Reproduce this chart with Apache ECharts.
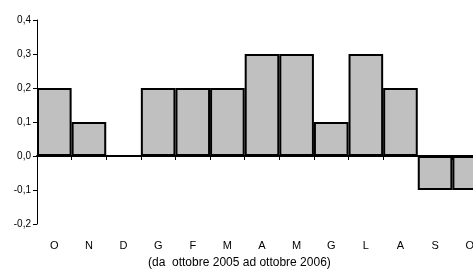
<!DOCTYPE html>
<html>
<head>
<meta charset="utf-8">
<script src="https://cdn.jsdelivr.net/npm/echarts@6.0.0/dist/echarts.min.js"></script>
<style>
  html, body { margin: 0; padding: 0; background: #fff; }
  #chart { width: 473px; height: 273px; }
</style>
</head>
<body>
<div id="chart"></div>
<script>
// Months (Oct 2005 -> Oct 2006)
const months = ['O', 'N', 'D', 'G', 'F', 'M', 'A', 'M', 'G', 'L', 'A', 'S', 'O'];
const values = [0.2, 0.1, 0, 0.2, 0.2, 0.2, 0.3, 0.3, 0.1, 0.3, 0.2, -0.1, -0.1];
const caption = '(da  ottobre 2005 ad ottobre 2006)';

const FONT = 'Liberation Sans, Arial, sans-serif';

const chart = echarts.init(document.getElementById('chart'), null, { renderer: 'canvas' });

const option = {
    animation: false,
    // plot runs past the right edge, last bar is cut like in the original
    grid: { left: 37, top: 20, width: 450, height: 204, containLabel: false, outerBoundsMode: 'none' },
    xAxis: [
        {
            type: 'category',
            data: months,
            axisLine: { onZero: true, lineStyle: { color: '#000', width: 2 } },
            axisTick: { show: true, alignWithLabel: false, length: 4, lineStyle: { color: '#000', width: 1 } },
            axisLabel: { show: false },
            splitLine: { show: false }
        },
        {
            type: 'category',
            data: months,
            position: 'bottom',
            axisLine: { show: false, onZero: false },
            axisTick: { show: false },
            axisLabel: { show: true, margin: 16, color: '#000', fontSize: 11, fontFamily: FONT },
            splitLine: { show: false }
        }
    ],
    yAxis: {
        type: 'value',
        min: -0.2,
        max: 0.4,
        interval: 0.1,
        axisLine: { show: true, lineStyle: { color: '#000', width: 1 } },
        axisTick: { show: true, length: 4, lineStyle: { color: '#000' } },
        axisLabel: {
            color: '#000',
            fontSize: 10,
            fontFamily: FONT,
            margin: 6,
            formatter: v => v.toFixed(1).replace('.', ',')
        },
        splitLine: { show: false }
    },
    graphic: [{
        type: 'text',
        left: 148,
        top: 257,
        style: { text: caption, fill: '#000', font: '12px ' + FONT }
    }],
    series: [{
        type: 'bar',
        xAxisIndex: 0,
        data: values,
        barCategoryGap: 0,
        itemStyle: { color: '#c0c0c0', borderColor: '#000', borderWidth: 2 }
    }]
};

chart.setOption(option);
</script>
</body>
</html>
